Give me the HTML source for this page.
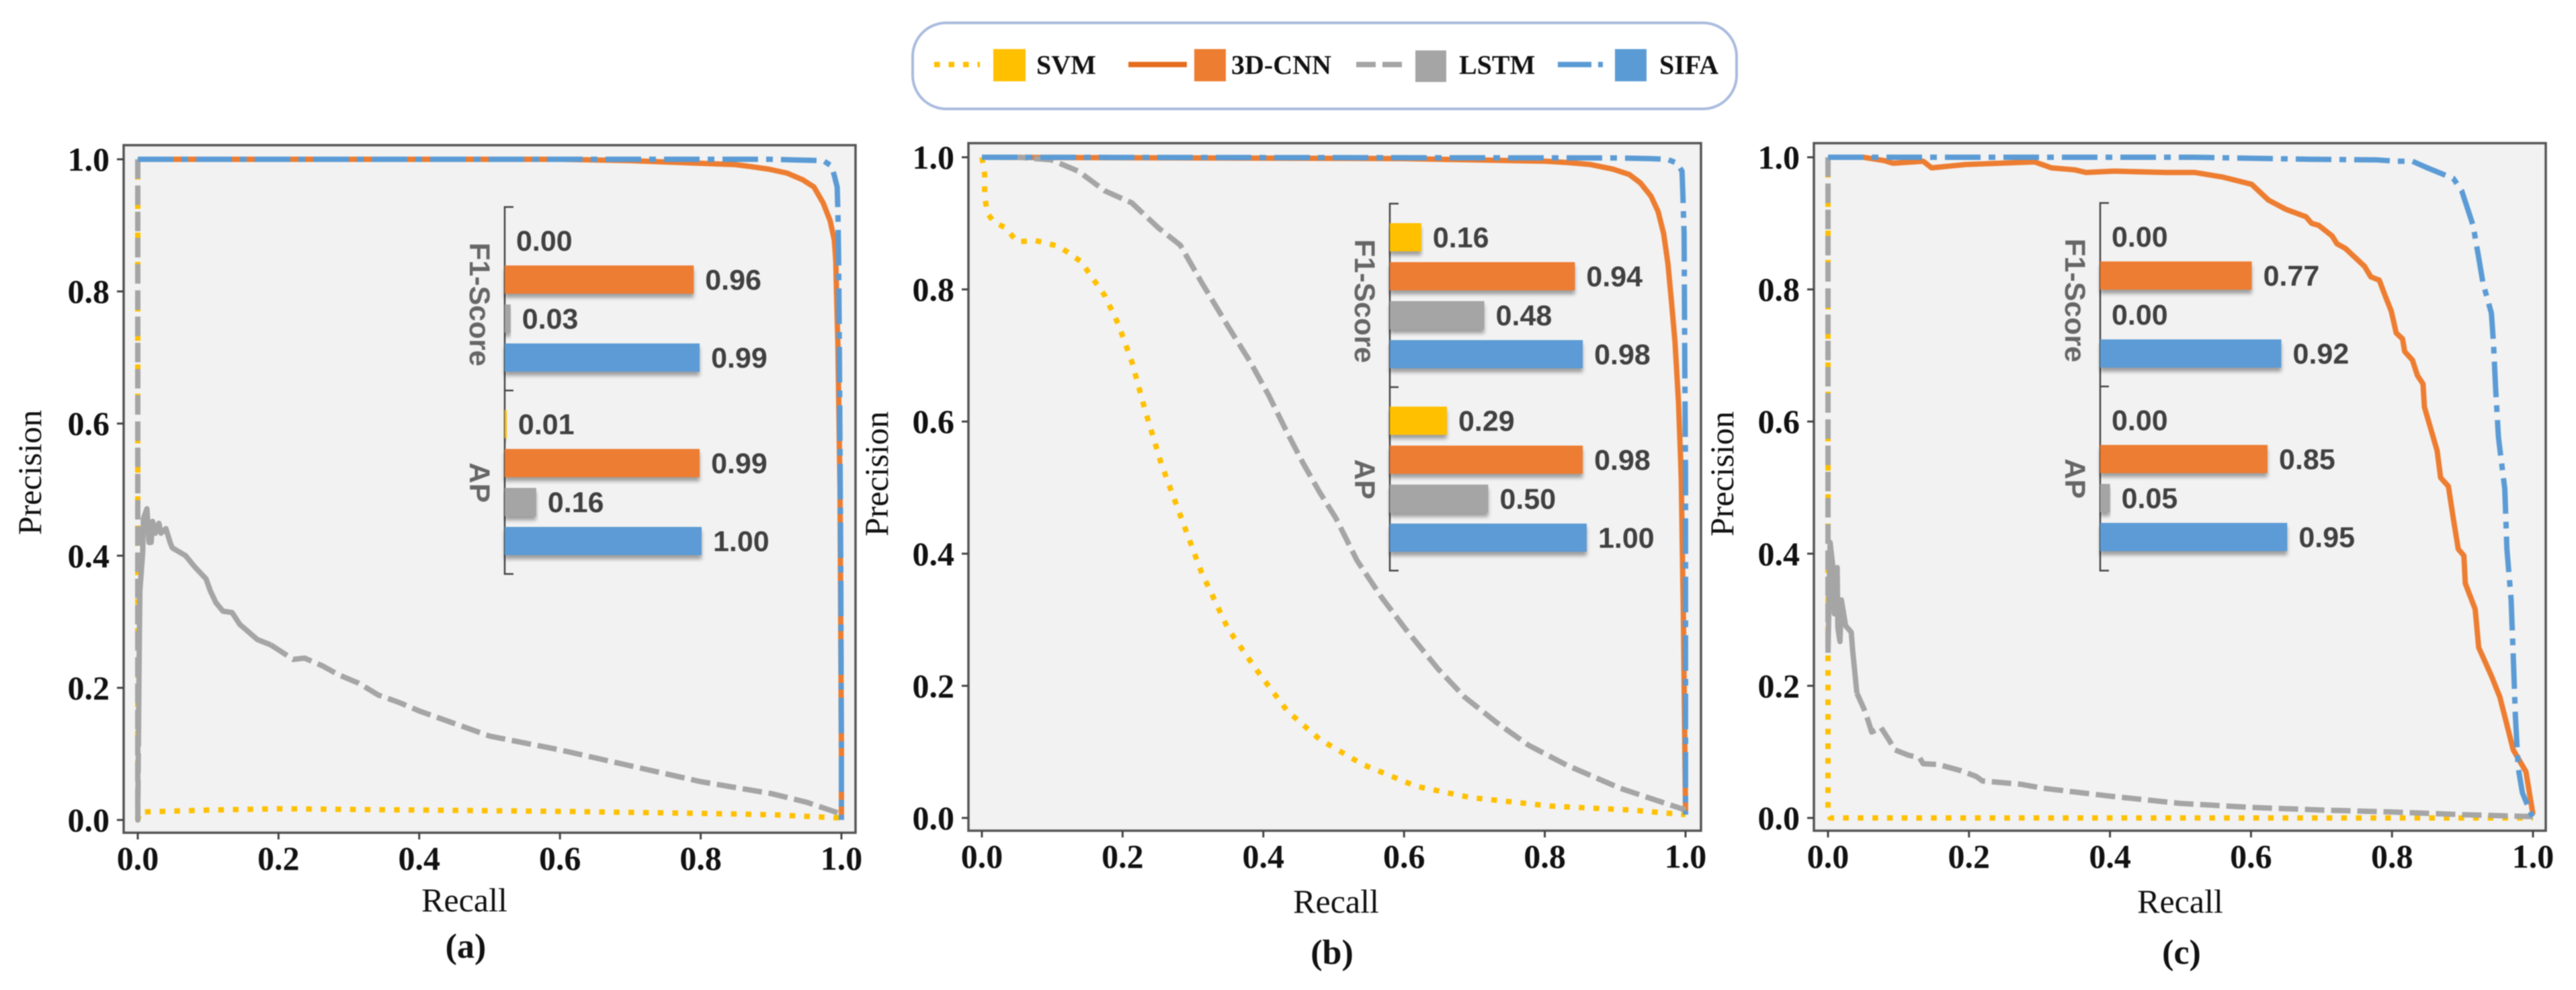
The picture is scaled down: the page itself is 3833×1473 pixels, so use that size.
<!DOCTYPE html>
<html lang="en">
<head>
<meta charset="utf-8">
<title>Precision-Recall curves</title>
<style>
html,body{margin:0;padding:0;background:#fff;}
body{width:3833px;height:1473px;overflow:hidden;}
svg{display:block;filter:blur(0.9px);}
.tick{font:bold 50px "Liberation Serif",serif;fill:#111;}
.axt{font:50px "Liberation Serif",serif;fill:#111;}
.cap{font:bold 52px "Liberation Serif",serif;fill:#111;}
.leg{font:bold 40px "Liberation Serif",serif;fill:#111;}
.val{font:bold 43px "Liberation Sans",sans-serif;fill:#404040;}
.grp{font:bold 43px "Liberation Sans",sans-serif;fill:#666;}
</style>
</head>
<body>
<svg id="fig" width="3833" height="1473" viewBox="0 0 3833 1473" xmlns="http://www.w3.org/2000/svg">
  <defs>
    <filter id="barShadow" x="-5%" y="-20%" width="112%" height="160%">
      <feDropShadow dx="0" dy="6" stdDeviation="3" flood-color="#000" flood-opacity="0.35"/>
    </filter>
  </defs>
  <g>
    <rect x="1358" y="34" width="1226" height="128" rx="50" ry="50" fill="#fff" stroke="#a9bbde" stroke-width="4"/>
    <g>
      <line x1="1390" y1="96" x2="1458" y2="96" stroke="#ffc000" stroke-width="8" stroke-dasharray="8.5 13"/>
      <rect x="1478" y="73" width="48" height="48" fill="#ffc000"/>
      <text class="leg" x="1542" y="110">SVM</text>
    </g>
    <g>
      <line x1="1679" y1="96" x2="1766" y2="96" stroke="#e66c1f" stroke-width="8"/>
      <rect x="1777" y="73" width="47" height="48" fill="#ed7d31"/>
      <text class="leg" x="1832" y="110">3D-CNN</text>
    </g>
    <g>
      <line x1="2018" y1="96" x2="2086" y2="96" stroke="#a5a5a5" stroke-width="8" stroke-dasharray="29 10"/>
      <rect x="2106" y="75" width="46" height="47" fill="#a5a5a5"/>
      <text class="leg" x="2171" y="110">LSTM</text>
    </g>
    <g>
      <line x1="2318" y1="96" x2="2385" y2="96" stroke="#5b9bd5" stroke-width="8" stroke-dasharray="50 10 7 10"/>
      <rect x="2403" y="73" width="47" height="48" fill="#5b9bd5"/>
      <text class="leg" x="2469" y="110">SIFA</text>
    </g>
  </g>
</svg>
<script>
// ---------- shared tick labels ----------
const xTicks = [0, 0.2, 0.4, 0.6, 0.8, 1.0];
const yTicks = [0, 0.2, 0.4, 0.6, 0.8, 1.0];
const seriesNames = ['svm', '3d-cnn', 'lstm', 'sifa'];
const insetGroups = ['F1-Score', 'AP'];

// ---------- panel (a) ----------
const svmRecallA = [0, 0, 0.003, 0.1, 0.2, 0.3, 0.4, 0.6, 0.8, 0.9, 1.0];
const svmPrecisionA = [1, 0, 0.012, 0.015, 0.017, 0.016, 0.015, 0.013, 0.01, 0.008, 0.003];
const cnnRecallA = [0, 0.6, 0.7, 0.807, 0.849, 0.871, 0.897, 0.923, 0.945, 0.961, 0.974, 0.984, 0.99, 0.992, 0.993, 0.995, 0.998, 1.0, 1.0];
const cnnPrecisionA = [1, 1, 0.998, 0.9936, 0.992, 0.989, 0.985, 0.979, 0.969, 0.958, 0.934, 0.907, 0.877, 0.846, 0.80, 0.72, 0.5, 0.1, 0];
const lstmRecallA = [0, 0, 0.001, 0.002, 0.003, 0.007, 0.008, 0.013, 0.016, 0.019, 0.021, 0.025, 0.03, 0.033, 0.04, 0.046, 0.049, 0.068, 0.081, 0.097, 0.103, 0.111, 0.121, 0.134, 0.145, 0.17, 0.189, 0.205, 0.221, 0.237, 0.263, 0.285, 0.314, 0.342, 0.371, 0.4, 0.5, 0.6, 0.7, 0.8, 0.9, 0.95, 1.0];
const lstmPrecisionA = [1, 0, 0.13, 0.25, 0.347, 0.405, 0.456, 0.471, 0.42, 0.42, 0.452, 0.434, 0.449, 0.434, 0.441, 0.42, 0.412, 0.4, 0.383, 0.365, 0.347, 0.329, 0.316, 0.314, 0.296, 0.273, 0.265, 0.254, 0.243, 0.245, 0.233, 0.22, 0.207, 0.189, 0.178, 0.165, 0.127, 0.106, 0.082, 0.058, 0.04, 0.027, 0.009];
const sifaRecallA = [0, 0.9, 0.935, 0.974, 0.986, 0.99, 0.994, 0.995, 0.996, 0.997, 0.999, 1.0, 1.0];
const sifaPrecisionA = [1, 1, 0.999, 0.998, 0.99, 0.975, 0.958, 0.92, 0.852, 0.724, 0.4, 0.1, 0];
const f1ScoresA = [0, 0.96, 0.03, 0.99];
const apScoresA = [0.01, 0.99, 0.16, 1.0];

// ---------- panel (b) ----------
const svmRecallB = [0, 0.004, 0.004, 0.008, 0.017, 0.034, 0.05, 0.076, 0.11, 0.141, 0.175, 0.194, 0.213, 0.232, 0.255, 0.282, 0.312, 0.35, 0.389, 0.434, 0.48, 0.541, 0.617, 0.694, 0.808, 0.922, 1.0];
const svmPrecisionB = [1, 0.974, 0.94, 0.915, 0.902, 0.893, 0.872, 0.874, 0.865, 0.842, 0.79, 0.747, 0.691, 0.617, 0.536, 0.458, 0.372, 0.286, 0.226, 0.162, 0.119, 0.081, 0.048, 0.031, 0.018, 0.012, 0.005];
const cnnRecallB = [0, 0.6, 0.7, 0.801, 0.833, 0.865, 0.897, 0.92, 0.936, 0.951, 0.961, 0.969, 0.975, 0.98, 0.985, 0.99, 0.993, 0.994, 0.997, 1.0];
const cnnPrecisionB = [1, 0.998, 0.996, 0.994, 0.992, 0.989, 0.982, 0.974, 0.961, 0.941, 0.918, 0.884, 0.839, 0.782, 0.721, 0.63, 0.544, 0.51, 0.3, 0.01];
const lstmRecallB = [0, 0.053, 0.099, 0.137, 0.175, 0.213, 0.251, 0.282, 0.312, 0.351, 0.381, 0.408, 0.434, 0.457, 0.48, 0.503, 0.533, 0.568, 0.602, 0.648, 0.686, 0.732, 0.777, 0.831, 0.907, 1.0];
const lstmPrecisionB = [1, 1, 0.996, 0.979, 0.949, 0.931, 0.893, 0.867, 0.811, 0.742, 0.691, 0.639, 0.583, 0.536, 0.493, 0.454, 0.39, 0.334, 0.286, 0.226, 0.183, 0.144, 0.11, 0.08, 0.045, 0.012];
const sifaRecallB = [0, 0.9, 0.95, 0.974, 0.988, 0.995, 0.996, 0.998, 0.999, 1.0, 1.0];
const sifaPrecisionB = [1, 0.999, 0.998, 0.997, 0.991, 0.979, 0.951, 0.884, 0.68, 0.518, 0.005];
const f1ScoresB = [0.16, 0.94, 0.48, 0.98];
const apScoresB = [0.29, 0.98, 0.50, 1.0];

// ---------- panel (c) ----------
const svmRecallC = [0, 0, 0.003, 1.0];
const svmPrecisionC = [1, 0.01, 0, 0];
const cnnRecallC = [0, 0.05, 0.08, 0.092, 0.135, 0.147, 0.195, 0.293, 0.317, 0.35, 0.366, 0.406, 0.479, 0.52, 0.56, 0.601, 0.625, 0.65, 0.678, 0.686, 0.696, 0.715, 0.722, 0.734, 0.747, 0.761, 0.77, 0.782, 0.789, 0.799, 0.806, 0.815, 0.818, 0.829, 0.836, 0.844, 0.846, 0.855, 0.864, 0.869, 0.88, 0.887, 0.894, 0.902, 0.904, 0.918, 0.923, 0.941, 0.953, 0.963, 0.972, 0.99, 1.0];
const cnnPrecisionC = [1, 1, 0.995, 0.991, 0.994, 0.984, 0.989, 0.993, 0.984, 0.981, 0.977, 0.979, 0.977, 0.977, 0.97, 0.959, 0.935, 0.921, 0.91, 0.9, 0.897, 0.881, 0.869, 0.862, 0.849, 0.835, 0.819, 0.814, 0.794, 0.767, 0.734, 0.725, 0.706, 0.693, 0.67, 0.657, 0.622, 0.589, 0.556, 0.515, 0.502, 0.453, 0.407, 0.397, 0.355, 0.316, 0.258, 0.215, 0.183, 0.141, 0.103, 0.07, 0.005];
const lstmRecallC = [0, 0, 0.003, 0.007, 0.009, 0.013, 0.014, 0.017, 0.019, 0.025, 0.033, 0.035, 0.041, 0.051, 0.057, 0.062, 0.075, 0.086, 0.095, 0.114, 0.13, 0.135, 0.156, 0.187, 0.21, 0.219, 0.241, 0.273, 0.305, 0.4, 0.5, 0.6, 0.7, 0.8, 0.9, 1.0];
const lstmPrecisionC = [1, 0.25, 0.417, 0.379, 0.309, 0.379, 0.288, 0.267, 0.33, 0.291, 0.281, 0.253, 0.189, 0.165, 0.147, 0.13, 0.137, 0.119, 0.103, 0.095, 0.091, 0.082, 0.081, 0.072, 0.063, 0.056, 0.054, 0.051, 0.045, 0.033, 0.022, 0.016, 0.012, 0.009, 0.005, 0.002];
const sifaRecallC = [0, 0.52, 0.682, 0.779, 0.807, 0.829, 0.848, 0.887, 0.899, 0.915, 0.923, 0.929, 0.941, 0.944, 0.947, 0.951, 0.96, 0.963, 0.969, 0.972, 0.975, 0.979, 0.985, 0.999];
const sifaPrecisionC = [1, 1, 0.997, 0.996, 0.994, 0.994, 0.985, 0.968, 0.949, 0.897, 0.848, 0.81, 0.764, 0.718, 0.65, 0.576, 0.498, 0.407, 0.33, 0.245, 0.155, 0.076, 0.038, 0.002];
const f1ScoresC = [0, 0.77, 0, 0.92];
const apScoresC = [0, 0.85, 0.05, 0.95];

// ---------- series look ----------
const colors = ['#ffc000', '#ed7d31', '#a5a5a5', '#5b9bd5'];
const dashes = ['8.5 13.3', '', '29 10', '53 12 10 12'];

const NS = 'http://www.w3.org/2000/svg';
const fig = document.getElementById('fig');

function svgEl(tag, parent) {
  const el = document.createElementNS(NS, tag);
  parent.appendChild(el);
  return el;
}

function drawPanel(p) {
  const xScale = v => p.x0 + v * (p.x1 - p.x0);
  const yScale = v => p.y0 - v * (p.y0 - p.y1);
  const barScale = v => v * 293;

  const g = svgEl('g', fig);
  
  

  const frame = svgEl('rect', g);
  
  
  frame.setAttribute('x', p.left);
  frame.setAttribute('y', p.top);
  frame.setAttribute('width', p.right - p.left);
  frame.setAttribute('height', p.bottom - p.top);
  frame.setAttribute('fill', '#f2f2f2');
  frame.setAttribute('stroke', '#555');
  frame.setAttribute('stroke-width', '3.5');

  xTicks.forEach(t => {
    const tick = svgEl('line', g);
    
    
    tick.setAttribute('x1', xScale(t));
    tick.setAttribute('x2', xScale(t));
    tick.setAttribute('y1', p.bottom);
    tick.setAttribute('y2', p.bottom + 10);
    tick.setAttribute('stroke', '#444');
    tick.setAttribute('stroke-width', '3');
    const label = svgEl('text', g);
    
    
    label.setAttribute('class', 'tick');
    label.setAttribute('x', xScale(t));
    label.setAttribute('y', p.bottom + 55);
    label.setAttribute('text-anchor', 'middle');
    label.textContent = t.toFixed(1);
  });

  yTicks.forEach(t => {
    const tick = svgEl('line', g);
    
    
    tick.setAttribute('x1', p.left - 10);
    tick.setAttribute('x2', p.left);
    tick.setAttribute('y1', yScale(t));
    tick.setAttribute('y2', yScale(t));
    tick.setAttribute('stroke', '#444');
    tick.setAttribute('stroke-width', '3');
    const label = svgEl('text', g);
    
    
    label.setAttribute('class', 'tick');
    label.setAttribute('x', p.left - 21);
    label.setAttribute('y', yScale(t) + 17);
    label.setAttribute('text-anchor', 'end');
    label.textContent = t.toFixed(1);
  });

  const yTitle = svgEl('text', g);
  
  
  yTitle.setAttribute('class', 'axt');
  yTitle.setAttribute('text-anchor', 'middle');
  yTitle.setAttribute('transform', 'translate(' + (p.titleX + 15) + ',' + p.titleY + ') rotate(-90)');
  yTitle.textContent = 'Precision';

  const xTitle = svgEl('text', g);
  
  
  xTitle.setAttribute('class', 'axt');
  xTitle.setAttribute('text-anchor', 'middle');
  xTitle.setAttribute('x', p.recallX);
  xTitle.setAttribute('y', p.recallY + 16);
  xTitle.textContent = 'Recall';

  const caption = svgEl('text', g);
  
  
  caption.setAttribute('class', 'cap');
  caption.setAttribute('text-anchor', 'middle');
  caption.setAttribute('x', p.capX);
  caption.setAttribute('y', p.capY + 16);
  caption.textContent = '(' + p.id + ')';

  // inset bars sit below the curves
  const ins = p.inset;
  const axis = svgEl('path', g);
  
  
  axis.setAttribute('d', 'M' + (ins.x + 13) + ' ' + ins.top + 'H' + ins.x + 'V' + ins.bot + 'H' + (ins.x + 13) + 'M' + ins.x + ' ' + ins.mid + 'H' + (ins.x + 13));
  axis.setAttribute('fill', 'none');
  axis.setAttribute('stroke', '#444');
  axis.setAttribute('stroke-width', '2.5');

  [p.f1, p.ap].forEach((scores, gi) => {
    const groupTitle = svgEl('text', g);
    
    
    groupTitle.setAttribute('class', 'grp');
    groupTitle.setAttribute('text-anchor', 'middle');
    const cy = gi === 0 ? ins.top + 145 : ins.mid + 137;
    groupTitle.setAttribute('transform', 'translate(' + (ins.x - 52) + ',' + cy + ') rotate(90)');
    groupTitle.textContent = insetGroups[gi];

    scores.forEach((v, i) => {
      const cyBar = ins.top + (gi === 0 ? 50 : 323) + i * 58;
      const w = barScale(v);
      if (v > 0) {
        const bar = svgEl('rect', g);
        
        
        bar.setAttribute('x', ins.x);
        bar.setAttribute('y', cyBar - 21);
        bar.setAttribute('width', w);
        bar.setAttribute('height', 42);
        bar.setAttribute('fill', colors[i]);
        bar.setAttribute('filter', 'url(#barShadow)');
      }
      const val = svgEl('text', g);
      
      
      val.setAttribute('class', 'val');
      val.setAttribute('x', ins.x + w + 17);
      val.setAttribute('y', cyBar + 15);
      val.textContent = v.toFixed(2);
    });
  });

  // curves: SVM, 3D-CNN, LSTM, SIFA (in draw order)
  p.curves.forEach((c, i) => {
    const toPts = (a, b) => c.r.slice(a, b).map((r, k) => xScale(r) + ',' + yScale(c.p[a + k])).join(' ');
    const pieces = [];
    if (c.solid) {
      pieces.push([0, c.solid[0] + 1, dashes[i]]);
      pieces.push([c.solid[0], c.solid[1] + 1, '']);
      pieces.push([c.solid[1], c.r.length, dashes[i]]);
    } else {
      pieces.push([0, c.r.length, dashes[i]]);
    }
    pieces.forEach(s => {
      const line = svgEl('polyline', g);
      
      
      line.setAttribute('points', toPts(s[0], s[1]));
      line.setAttribute('fill', 'none');
      line.setAttribute('stroke', colors[i]);
      line.setAttribute('stroke-width', '8');
      line.setAttribute('stroke-linejoin', 'round');
      if (s[2]) line.setAttribute('stroke-dasharray', s[2]);
    });
  });
}

drawPanel({
  id: 'a', left: 184, right: 1273, top: 216, bottom: 1239, x0: 205, x1: 1252, y0: 1220, y1: 237,
  titleX: 46, titleY: 703, recallX: 691, recallY: 1340, capX: 693, capY: 1409,
  inset: {x: 751, top: 308, mid: 581, bot: 854},
  f1: f1ScoresA, ap: apScoresA,
  curves: [
    {r: svmRecallA, p: svmPrecisionA},
    {r: cnnRecallA, p: cnnPrecisionA},
    {r: lstmRecallA, p: lstmPrecisionA, solid: [2, 26]},
    {r: sifaRecallA, p: sifaPrecisionA}
  ]
});
drawPanel({
  id: 'b', left: 1441, right: 2531, top: 213, bottom: 1236, x0: 1461, x1: 2508, y0: 1217, y1: 234,
  titleX: 1306, titleY: 705, recallX: 1988, recallY: 1342, capX: 1982, capY: 1418,
  inset: {x: 2068, top: 303, mid: 576, bot: 849},
  f1: f1ScoresB, ap: apScoresB,
  curves: [
    {r: svmRecallB, p: svmPrecisionB},
    {r: cnnRecallB, p: cnnPrecisionB},
    {r: lstmRecallB, p: lstmPrecisionB},
    {r: sifaRecallB, p: sifaPrecisionB}
  ]
});
drawPanel({
  id: 'c', left: 2699, right: 3788, top: 213, bottom: 1236, x0: 2720, x1: 3769, y0: 1217, y1: 234,
  titleX: 2564, titleY: 705, recallX: 3244, recallY: 1342, capX: 3246, capY: 1418,
  inset: {x: 3125, top: 302, mid: 575, bot: 849},
  f1: f1ScoresC, ap: apScoresC,
  curves: [
    {r: svmRecallC, p: svmPrecisionC},
    {r: cnnRecallC, p: cnnPrecisionC},
    {r: lstmRecallC, p: lstmPrecisionC, solid: [1, 12]},
    {r: sifaRecallC, p: sifaPrecisionC}
  ]
});
</script>
</body>
</html>
